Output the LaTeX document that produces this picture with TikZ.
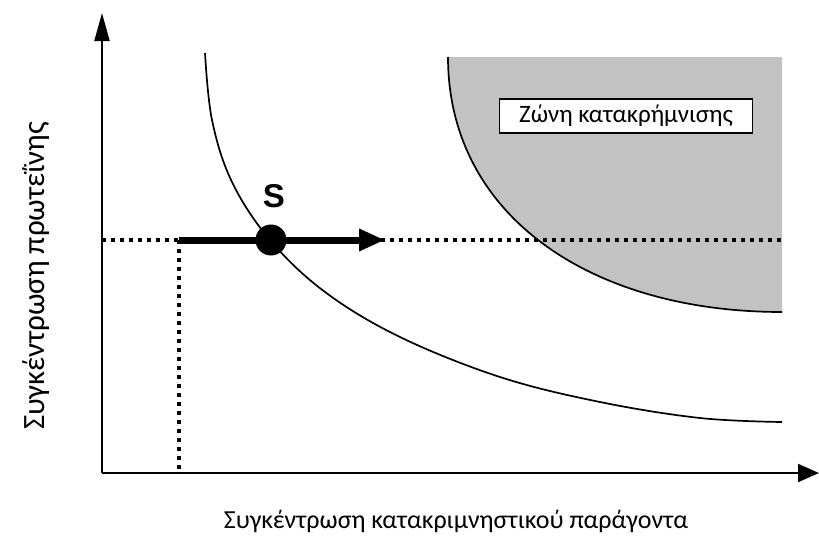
\documentclass[tikz,border=0pt]{standalone}
\usepackage{fontspec}
\setmainfont{Carlito}
\newfontfamily\sfbold{Liberation Sans}
\usetikzlibrary{arrows.meta}
\begin{document}
\begin{tikzpicture}[x=1pt,y=-1pt,
  axis/.style={line width=2pt},
  curveline/.style={line width=1.7pt},
  dotline/.style={line width=3.2pt,dash pattern=on 3.5pt off 5.5pt},
  bigarrow/.style={line width=7pt,-{Triangle[length=26pt,width=21pt]}},
  zonebox/.style={draw,line width=1.2pt,fill=white,minimum width=253pt,minimum height=34pt,inner sep=0pt,font=\fontsize{25}{25}\selectfont},
  lab/.style={font=\fontsize{26}{26}\selectfont}]
\useasboundingbox (0,0) rectangle (819,541);
\coordinate (O) at (102,473);
\coordinate (ytop) at (102,13);
\coordinate (xend) at (819,473);
\coordinate (hl) at (102,240);
\coordinate (hr) at (782,240);
\coordinate (v0) at (179,240);
\coordinate (v1) at (179,473);
\coordinate (atip) at (385,240);
% precipitation zone
\fill[black!24] (448,57) .. controls (448,215) and (590,312) .. (782,312) -- (782,57) -- cycle;
\draw[curveline] (448,57) .. controls (448,215) and (590,312) .. (782,312);
\node[zonebox] (zone) at (626,116) {Ζώνη κατακρήμνισης};
% dotted guides
\draw[dotline] (hl) -- (hr);
\draw[dotline] (v0) -- (v1);
% solubility curve
\draw[curveline] plot[smooth,tension=0.6] coordinates {(205,53) (212,120) (232,182) (270,240) (325,292) (400,337) (500,377) (600,402) (700,418) (782,422)};
% axes
\draw[axis,-{Triangle[length=28pt,width=15pt]}] (O) -- (ytop);
\draw[axis,-{Triangle[length=21pt,width=18pt]}] (O) -- (xend);
% arrow and point
\draw[bigarrow] (v0) -- (atip);
\node[circle,fill=black,minimum size=31pt,inner sep=0pt] (S) at (271,240) {};
\node[font=\sfbold\bfseries\fontsize{33}{33}\selectfont] (Slab) at (274,196) {S};
% labels
\node[lab] (xlab) at (456,521) {Συγκέντρωση κατακριμνηστικού παράγοντα};
\node[lab,rotate=90,font=\fontsize{31}{31}\selectfont] (ylab) at (36,276) {Συγκέντρωση πρωτεΐνης};
\end{tikzpicture}
\end{document}
